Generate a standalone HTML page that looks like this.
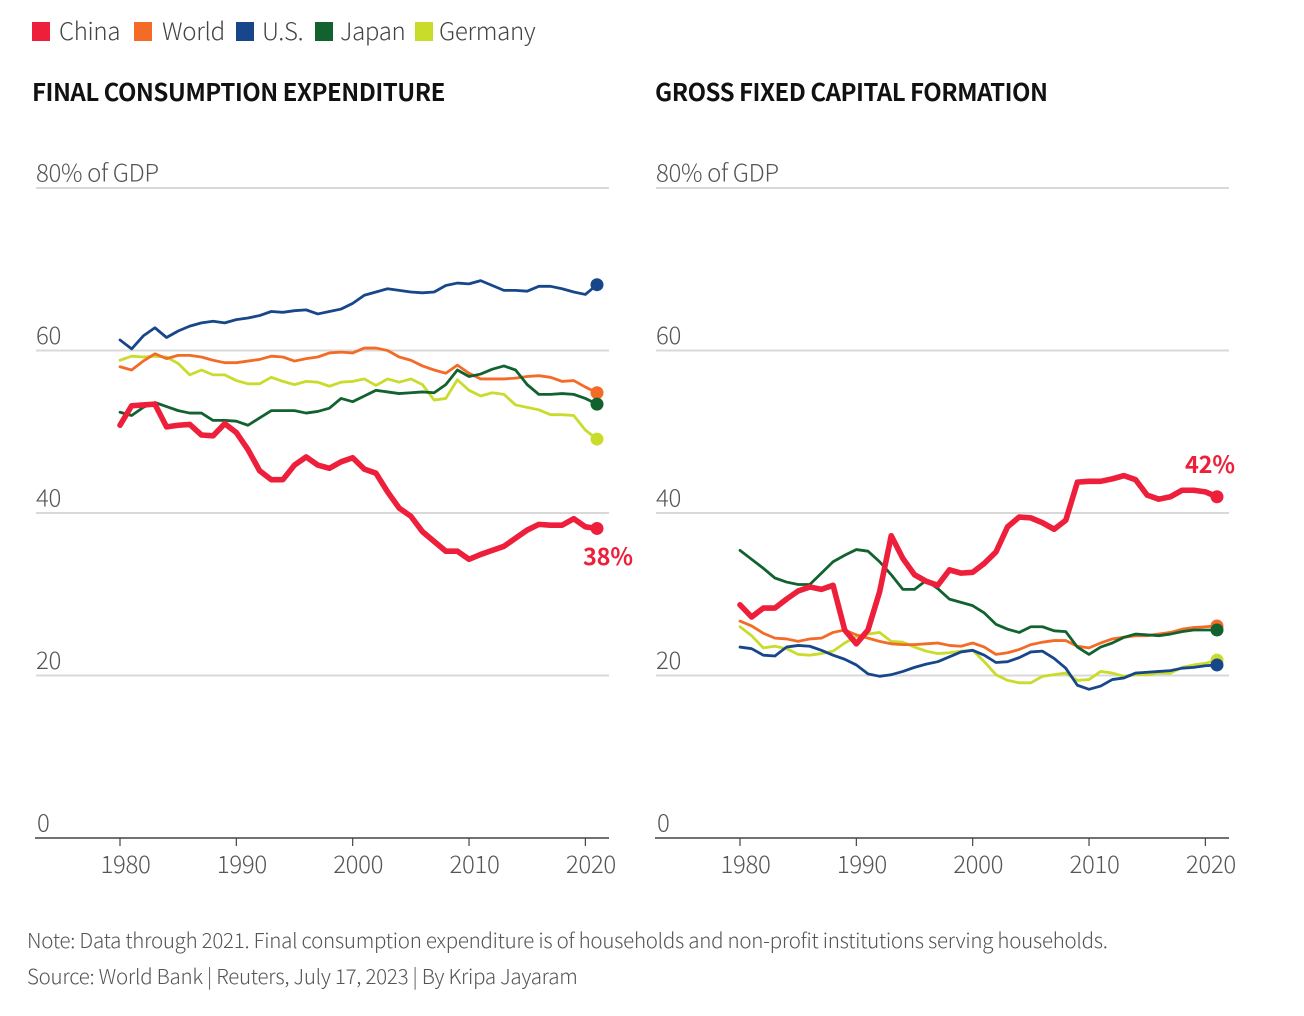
<!DOCTYPE html>
<html lang="en">
<head>
<meta charset="utf-8">
<title>Consumption and investment share of GDP</title>
<style>
html,body{margin:0;padding:0;background:#fff;width:1304px;height:1016px;overflow:hidden}
svg{display:block}
text{font-family:"Noto Sans CJK JP","Liberation Sans",sans-serif;font-weight:300}
.tick{font-size:24px;fill:#555;letter-spacing:-0.35px}
.legend{font-size:24px;fill:#444;letter-spacing:-0.3px}
.title{font-size:24px;font-weight:700;fill:#111;letter-spacing:-0.5px}
.note{font-size:20.5px;fill:#555;letter-spacing:-0.26px}
.callout{font-size:23.5px;font-weight:700;fill:#ee1f3b;letter-spacing:-0.2px}
</style>
</head>
<body>
<svg id="chart" xmlns="http://www.w3.org/2000/svg" width="1304" height="1016" viewBox="0 0 1304 1016">
  <g>
    <rect x="32" y="22" width="18" height="19" fill="#ee1f3b"/>
    <text class="legend" x="59" y="40">China</text>
    <rect x="134" y="22" width="18" height="19" fill="#f46a27"/>
    <text class="legend" x="162" y="40">World</text>
    <rect x="236" y="22" width="18" height="19" fill="#17468a"/>
    <text class="legend" x="262" y="40">U.S.</text>
    <rect x="315" y="22" width="18" height="19" fill="#12622f"/>
    <text class="legend" x="340" y="40">Japan</text>
    <rect x="415" y="22" width="18" height="19" fill="#c9dc2c"/>
    <text class="legend" x="439" y="40">Germany</text>
  </g>
  <text class="title" x="32" y="101">FINAL CONSUMPTION EXPENDITURE</text>
  <text class="title" x="655" y="101">GROSS FIXED CAPITAL FORMATION</text>
  <text class="note" x="27" y="948">Note: Data through 2021. Final consumption expenditure is of households and non-profit institutions serving households.</text>
  <text class="note" x="27" y="984">Source: World Bank | Reuters, July 17, 2023 | By Kripa Jayaram</text>
</svg>
<script>
const firstYear = 1980;
const lastYear = 2021;
const xTickYears = [1980, 1990, 2000, 2010, 2020];
const yTickValues = [0, 20, 40, 60, 80];

const consumptionChina = [50.8,53.2,53.3,53.4,50.6,50.8,50.9,49.6,49.5,51.0,49.9,47.8,45.2,44.1,44.1,45.9,46.9,45.9,45.5,46.3,46.8,45.4,44.9,42.6,40.6,39.6,37.7,36.5,35.3,35.3,34.3,34.9,35.4,35.9,36.9,37.9,38.6,38.5,38.5,39.3,38.3,38.1];
const consumptionWorld = [58.0,57.6,58.7,59.6,59.0,59.4,59.4,59.2,58.8,58.5,58.5,58.7,58.9,59.3,59.2,58.7,59.0,59.2,59.7,59.8,59.7,60.3,60.3,60.0,59.2,58.8,58.1,57.6,57.2,58.2,57.2,56.5,56.5,56.5,56.6,56.8,56.9,56.7,56.2,56.3,55.5,54.8];
const consumptionUS = [61.3,60.2,61.8,62.8,61.6,62.4,63.0,63.4,63.6,63.4,63.8,64.0,64.3,64.8,64.7,64.9,65.0,64.5,64.8,65.1,65.8,66.8,67.2,67.6,67.4,67.2,67.1,67.2,68.0,68.3,68.2,68.6,68.0,67.4,67.4,67.3,67.9,67.9,67.6,67.2,66.9,68.1];
const consumptionJapan = [52.4,52.0,53.0,53.6,53.1,52.6,52.3,52.3,51.4,51.4,51.3,50.8,51.7,52.6,52.6,52.6,52.3,52.5,52.9,54.1,53.7,54.4,55.1,54.9,54.7,54.8,54.9,54.8,55.8,57.6,56.8,57.1,57.7,58.1,57.6,55.8,54.6,54.6,54.7,54.6,54.1,53.4];
const consumptionGermany = [58.8,59.3,59.2,59.3,59.2,58.4,57.0,57.6,57.0,57.0,56.3,55.9,55.9,56.7,56.2,55.8,56.2,56.1,55.6,56.1,56.2,56.5,55.7,56.5,56.1,56.5,55.8,53.9,54.1,56.4,55.1,54.4,54.8,54.6,53.3,53.0,52.7,52.1,52.1,52.0,50.2,49.1];

const capitalChina = [28.7,27.2,28.3,28.3,29.4,30.4,30.9,30.6,31.1,25.6,23.9,25.6,30.3,37.2,34.4,32.4,31.6,31.1,33.0,32.6,32.7,33.8,35.2,38.3,39.5,39.4,38.8,38.0,39.1,43.8,43.9,43.9,44.2,44.6,44.1,42.2,41.7,42.0,42.8,42.8,42.6,42.0];
const capitalWorld = [26.7,26.1,25.2,24.6,24.5,24.2,24.5,24.6,25.3,25.6,25.0,24.6,24.2,23.9,23.8,23.8,23.9,24.0,23.7,23.6,24.0,23.5,22.6,22.8,23.2,23.8,24.1,24.3,24.3,23.6,23.4,24.0,24.5,24.7,24.9,24.9,25.1,25.3,25.7,25.9,26.0,26.1];
const capitalUS = [23.5,23.3,22.5,22.4,23.5,23.7,23.6,23.1,22.5,22.0,21.3,20.2,19.9,20.1,20.5,21.0,21.4,21.7,22.3,22.9,23.1,22.5,21.6,21.7,22.2,22.9,23.0,22.1,20.9,18.8,18.3,18.7,19.5,19.7,20.3,20.4,20.5,20.6,20.9,21.0,21.2,21.3];
const capitalJapan = [35.4,34.3,33.2,32.0,31.5,31.2,31.2,32.6,34.0,34.8,35.5,35.3,34.0,32.4,30.6,30.6,31.7,30.7,29.4,29.0,28.6,27.7,26.3,25.7,25.3,26.0,26.0,25.5,25.4,23.5,22.6,23.5,24.0,24.7,25.1,25.0,24.9,25.1,25.4,25.6,25.6,25.6];
const capitalGermany = [26.0,24.9,23.4,23.6,23.3,22.6,22.5,22.7,23.0,24.0,24.8,25.1,25.3,24.2,24.1,23.5,23.0,22.7,22.8,23.0,23.1,21.7,20.1,19.4,19.1,19.1,19.9,20.1,20.3,19.4,19.5,20.5,20.3,19.9,20.1,20.1,20.3,20.3,21.0,21.3,21.5,21.9];

const svgNS = 'http://www.w3.org/2000/svg';
const chart = document.getElementById('chart');

function yScale(v) { return 838 - v * 8.125; }
function xScale(year, left) { return left + (year - firstYear) * (477 / (lastYear - firstYear)); }

function make(tag, attrs, parent) {
  const el = document.createElementNS(svgNS, tag);
  for (const k in attrs) el.setAttribute(k, attrs[k]);
  parent.appendChild(el);
  return el;
}

function drawPanel(prefix, left, axisLeft, axisRight, labelX, seriesList, calloutText, calloutX, calloutY) {
  const g = make('g', {}, chart);
  
  

  yTickValues.forEach(function (v) {
    if (v > 0) {
      const line = make('line', {x1: axisLeft, x2: axisRight, y1: yScale(v), y2: yScale(v), stroke: '#d9d9d9', 'stroke-width': 2}, g);
      
      
    }
    const label = make('text', {class: 'tick', x: labelX + (v === 0 ? 1 : 0), y: yScale(v) - 6.5}, g);
    label.textContent = v === 80 ? '80% of GDP' : String(v);
    
    
  });

  const axis = make('line', {x1: axisLeft - 1, x2: axisRight, y1: 838, y2: 838, stroke: '#444', 'stroke-width': 1.6}, g);
  
  

  xTickYears.forEach(function (year) {
    const x = xScale(year, left);
    const tick = make('line', {x1: x, x2: x, y1: 838, y2: 846, stroke: '#444', 'stroke-width': 1.2}, g);
    
    
    const label = make('text', {class: 'tick', x: x + 5.5, y: 873, 'text-anchor': 'middle'}, g);
    label.textContent = String(year);
    
    
  });

  seriesList.forEach(function (s) {
    const d = s.values.map(function (v, i) {
      return (i ? 'L' : 'M') + xScale(firstYear + i, left).toFixed(2) + ' ' + yScale(v).toFixed(2);
    }).join(' ');
    const path = make('path', {d: d, fill: 'none', stroke: s.color, 'stroke-width': s.width, 'stroke-linejoin': 'round', 'stroke-linecap': 'round'}, g);
    
    
    const last = s.values[s.values.length - 1];
    const dot = make('circle', {cx: xScale(lastYear, left), cy: yScale(last), r: 6.5, fill: s.color}, g);
    
    
  });

  const callout = make('text', {class: 'callout', x: calloutX, y: calloutY}, g);
  callout.textContent = calloutText;
  
  
}

drawPanel('consumption', 120, 36, 609, 36, [
  {name: 'germany', color: '#c9dc2c', width: 2.8, values: consumptionGermany},
  {name: 'world', color: '#f46a27', width: 2.8, values: consumptionWorld},
  {name: 'us', color: '#17468a', width: 2.8, values: consumptionUS},
  {name: 'japan', color: '#12622f', width: 2.8, values: consumptionJapan},
  {name: 'china', color: '#ee1f3b', width: 5.6, values: consumptionChina}
], '38%', 583, 565);

drawPanel('capital', 740, 656, 1229, 656, [
  {name: 'germany', color: '#c9dc2c', width: 2.8, values: capitalGermany},
  {name: 'world', color: '#f46a27', width: 2.8, values: capitalWorld},
  {name: 'us', color: '#17468a', width: 2.8, values: capitalUS},
  {name: 'japan', color: '#12622f', width: 2.8, values: capitalJapan},
  {name: 'china', color: '#ee1f3b', width: 5.6, values: capitalChina}
], '42%', 1185, 473);
</script>
</body>
</html>
